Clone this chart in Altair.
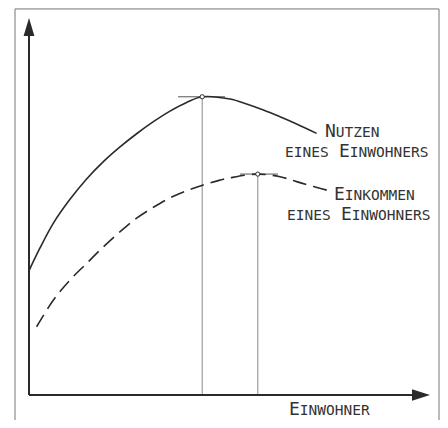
import altair as alt
import pandas as pd

# ---- data (schematic units: 0..100 on both axes) ----
nutzen_x = [0.1, 2.75, 6.1, 10.25, 14.4, 18.6, 22.75, 26.9, 31.1, 35.25, 39.4, 43.3,
            50.25, 54.4, 58.6, 62.75, 66.9, 71.9]
nutzen_y = [33.2, 39.0, 45.6, 51.9, 57.3, 61.9, 65.8, 69.3, 72.5, 75.3, 77.6, 79.1,
            78.5, 77.2, 75.6, 73.8, 71.9, 69.4]

einkommen_x = [1.9, 6.1, 10.25, 14.4, 18.6, 22.75, 26.9, 31.1, 35.25, 39.4, 43.2,
               47.75, 50.25, 57.2, 62.75, 66.9, 71.1, 76.0]
einkommen_y = [18.1, 25.2, 30.5, 34.9, 39.3, 43.3, 46.9, 49.8, 52.3, 54.2, 55.6,
               57.0, 57.6, 58.6, 57.9, 56.6, 55.3, 53.9]

peak_x = [43.3, 57.2]
peak_y = [79.1, 58.6]
tangent_from = [37.25, 52.75]
tangent_to = [49.0, 62.25]

# ---- layout (pixel geometry of the sketch) ----
PX_X = 4.0       # px per x unit
PX_Y = 3.77      # px per y unit
W, H = 432, 412
X0_PX, Y0_PX = 21, 387   # origin inside the plot area
x_dom = [-X0_PX / PX_X, (W - X0_PX) / PX_X]
y_dom = [-(H - Y0_PX) / PX_Y, Y0_PX / PX_Y]

xs = alt.Scale(domain=x_dom, nice=False, zero=False)
ys = alt.Scale(domain=y_dom, nice=False, zero=False)

def X(f="x"):
    return alt.X(f"{f}:Q", scale=xs, axis=None)

def Y(f="y"):
    return alt.Y(f"{f}:Q", scale=ys, axis=None)

ink = "#2a2a2a"

curve_n = pd.DataFrame({"x": nutzen_x, "y": nutzen_y})
curve_e = pd.DataFrame({"x": einkommen_x, "y": einkommen_y})
peaks = pd.DataFrame({"x": peak_x, "y": peak_y, "x1": tangent_from, "x2": tangent_to,
                      "y0": [0, 0]})

solid = alt.Chart(curve_n).mark_line(color=ink, strokeWidth=1.6, interpolate="catmull-rom").encode(
    x=X(), y=Y())
dashed = alt.Chart(curve_e).mark_line(color=ink, strokeWidth=1.6, interpolate="catmull-rom",
                                      strokeDash=[14, 7]).encode(x=X(), y=Y())

verticals = alt.Chart(peaks).mark_rule(color="#8a8a8a", strokeWidth=1).encode(
    x=X(), y=Y(), y2="y0:Q")
tangents = alt.Chart(peaks).mark_rule(color="#555555", strokeWidth=1).encode(
    x=X("x1"), x2="x2:Q", y=Y())
dots = alt.Chart(peaks).mark_point(shape="circle", size=18, filled=True, fill="white",
                                   stroke=ink, strokeWidth=1, opacity=1).encode(x=X(), y=Y())

# axes with arrow heads
axes_df = pd.DataFrame({"x": [0, 0], "y": [0, 0], "x2": [98.0, 0], "y2": [0, 97.0]})
axes = alt.Chart(axes_df).mark_rule(color=ink, strokeWidth=2).encode(
    x=X(), y=Y(), x2="x2:Q", y2="y2:Q")
arr_up = alt.Chart(pd.DataFrame({"x": [0], "y": [97.6]})).mark_point(
    shape="M0,-1L0.6,1L-0.6,1Z", size=324, filled=True, color=ink, opacity=1).encode(x=X(), y=Y())
arr_right = alt.Chart(pd.DataFrame({"x": [98.0], "y": [0]})).mark_point(
    shape="M1,0L-1,0.65L-1,-0.65Z", size=324, filled=True, color=ink, opacity=1).encode(x=X(), y=Y())

# frame (top, left, right)
fl, fr, ft, fb = -3.5, 102.5, 102.4, y_dom[0]
frame_df = pd.DataFrame({"x": [fl, fl, fr], "x2": [fr, fl, fr],
                         "y": [ft, ft, ft], "y2": [ft, fb, fb]})
frame = alt.Chart(frame_df).mark_rule(color="#777777", strokeWidth=1).encode(
    x=X(), y=Y(), x2="x2:Q", y2="y2:Q")

# small-caps labels: (text, x, y, fontsize)
big, small = 18, 14.5
lab = pd.DataFrame([
    ("N", 74.0, 68.4, big), ("UTZEN", 76.7, 68.4, small),
    ("EINES", 64.0, 63.1, small), ("E", 77.5, 63.1, big), ("INWOHNERS", 80.2, 63.1, small),
    ("E", 76.25, 51.7, big), ("INKOMMEN", 78.95, 51.7, small),
    ("EINES", 64.5, 46.4, small), ("E", 78.0, 46.4, big), ("INWOHNERS", 80.7, 46.4, small),
    ("E", 65.0, -5.3, big), ("INWOHNER", 67.7, -5.3, small),
], columns=["t", "x", "y", "fs"])
texts = alt.Chart(lab).mark_text(align="left", baseline="alphabetic", font="DejaVu Sans Mono",
                                 color="#333333").encode(
    x=X(), y=Y(), text="t:N", size=alt.Size("fs:Q", scale=None))

chart = alt.layer(frame, verticals, tangents, solid, dashed, dots, axes, arr_up, arr_right,
                  texts).properties(
    width=W, height=H, autosize=alt.AutoSizeParams(type="none"), padding=0,
    background="white"
).configure_view(stroke=None)

chart.save("out.html", embed_options={"renderer": "svg", "actions": False})
